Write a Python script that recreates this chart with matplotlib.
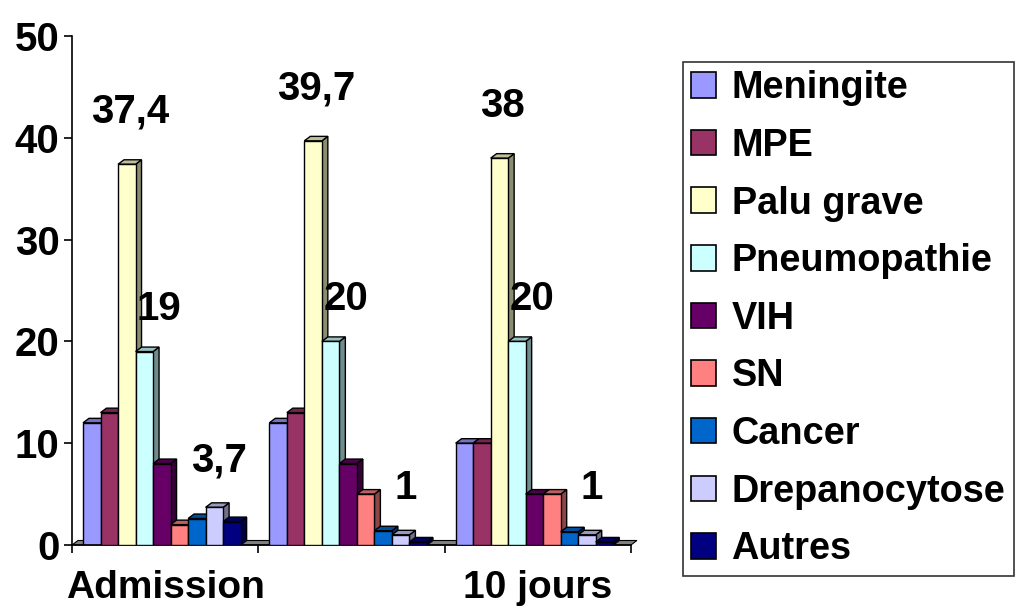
import numpy as np
import matplotlib
matplotlib.use('Agg')
from matplotlib import pyplot as plt
from matplotlib.patches import Polygon, Patch
from matplotlib.colors import to_rgb

plt.rcParams['font.family'] = ['Liberation Sans', 'DejaVu Sans']
plt.rcParams['font.weight'] = 'bold'

# Periods (the middle one has no printed label)
periods = ['Admission', '', '10 jours']

# One list per pathology, values for each period
meningite = [12, 12, 10]
mpe = [13, 13, 10]
palu_grave = [37.4, 39.7, 38]
pneumopathie = [19, 20, 20]
vih = [8, 8, 5]
sn = [2, 5, 5]
cancer = [2.6, 1.4, 1.3]
drepanocytose = [3.7, 1, 1]
autres = [2.3, 0.3, 0.3]

names = ['Meningite', 'MPE', 'Palu grave', 'Pneumopathie', 'VIH', 'SN',
         'Cancer', 'Drepanocytose', 'Autres']
series = [meningite, mpe, palu_grave, pneumopathie, vih, sn, cancer,
          drepanocytose, autres]
colors = ['#9999FF', '#993366', '#FFFFCC', '#CCFFFF', '#660066', '#FF8080',
          '#0066CC', '#CCCCFF', '#000080']
# only these series get a value label, with a small nudge (pixels)
label_nudge = {'Palu grave': (0, 4), 'Pneumopathie': (12, -6),
               'Drepanocytose': (2, -2)}


def shade(c, f):
    return tuple(v * f for v in to_rgb(c))


def fmt(v):
    if float(v).is_integer():
        return f'{int(v)}'
    return f'{v}'.replace('.', ',')


fig = plt.figure(figsize=(10.19, 6.10), dpi=100)
ax = fig.add_axes([0.0707, 0.1066, 0.5485, 0.8344])

bw = 0.094     # bar width in category units
off = 0.059    # gap before first bar of a group
dx = 0.032     # 3d depth, horizontal
dy = 0.44      # 3d depth, vertical

# floor of the 3d box
n = len(periods)
ax.add_patch(Polygon([(0, 0), (n, 0), (n + dx, dy), (dx, dy)], closed=True,
                     facecolor='#808080', edgecolor='black', lw=0.8,
                     zorder=1, clip_on=False))

z = 2
for i in range(n):
    for j, (name, vals, c) in enumerate(zip(names, series, colors)):
        v = vals[i]
        x0 = i + off + j * bw
        x1 = x0 + bw
        front = Polygon([(x0, 0), (x1, 0), (x1, v), (x0, v)], closed=True,
                        facecolor=c, edgecolor='black', lw=1.0, zorder=z)
        top = Polygon([(x0, v), (x1, v), (x1 + dx, v + dy), (x0 + dx, v + dy)],
                      closed=True, facecolor=shade(c, 0.75), edgecolor='black',
                      lw=1.0, zorder=z)
        side = Polygon([(x1, 0), (x1 + dx, dy), (x1 + dx, v + dy), (x1, v)],
                       closed=True, facecolor=shade(c, 0.55), edgecolor='black',
                       lw=1.0, zorder=z)
        for p in (side, top, front):
            ax.add_patch(p)
        z += 1
        if name in label_nudge:
            ndx, ndy = label_nudge[name]
            ax.annotate(fmt(v), xy=(x0 + bw / 2 + dx / 2, v + dy),
                        xytext=(ndx, 25 + ndy), textcoords='offset pixels',
                        ha='center', va='bottom', fontsize=29,
                        fontweight='bold', zorder=100)

ax.set_xlim(0, n)
ax.set_ylim(0, 50)
ax.set_yticks(np.arange(0, 51, 10))
ax.tick_params(axis='y', labelsize=29, length=6, width=1.2, pad=3)
ax.set_xticks(np.arange(0, n + 1))
ax.set_xticklabels([])
ax.set_xticks(np.arange(n) + 0.5, minor=True)
ax.set_xticklabels(periods, minor=True)
ax.tick_params(axis='x', which='major', length=6, width=1.2)
ax.tick_params(axis='x', which='minor', length=0, labelsize=28, pad=18)
for lab in ax.get_xticklabels(minor=True) + ax.get_yticklabels():
    lab.set_fontweight('bold')
ax.spines['top'].set_visible(False)
ax.spines['right'].set_visible(False)
ax.spines['left'].set_linewidth(1.2)
ax.spines['bottom'].set_linewidth(1.2)

handles = [Patch(facecolor=c, edgecolor='black', lw=1.2) for c in colors]
leg = fig.legend(handles, names, loc='upper left',
                 bbox_to_anchor=(683 / 1019, 1 - 62 / 610),
                 frameon=True, fancybox=False, edgecolor='black',
                 prop={'size': 27.3, 'weight': 'bold'},
                 handlelength=0.66, handleheight=0.66, handletextpad=0.4,
                 labelspacing=0.57, borderpad=0.22, borderaxespad=0)
leg.get_frame().set_linewidth(1.2)

fig.savefig('out.png', dpi=100)
